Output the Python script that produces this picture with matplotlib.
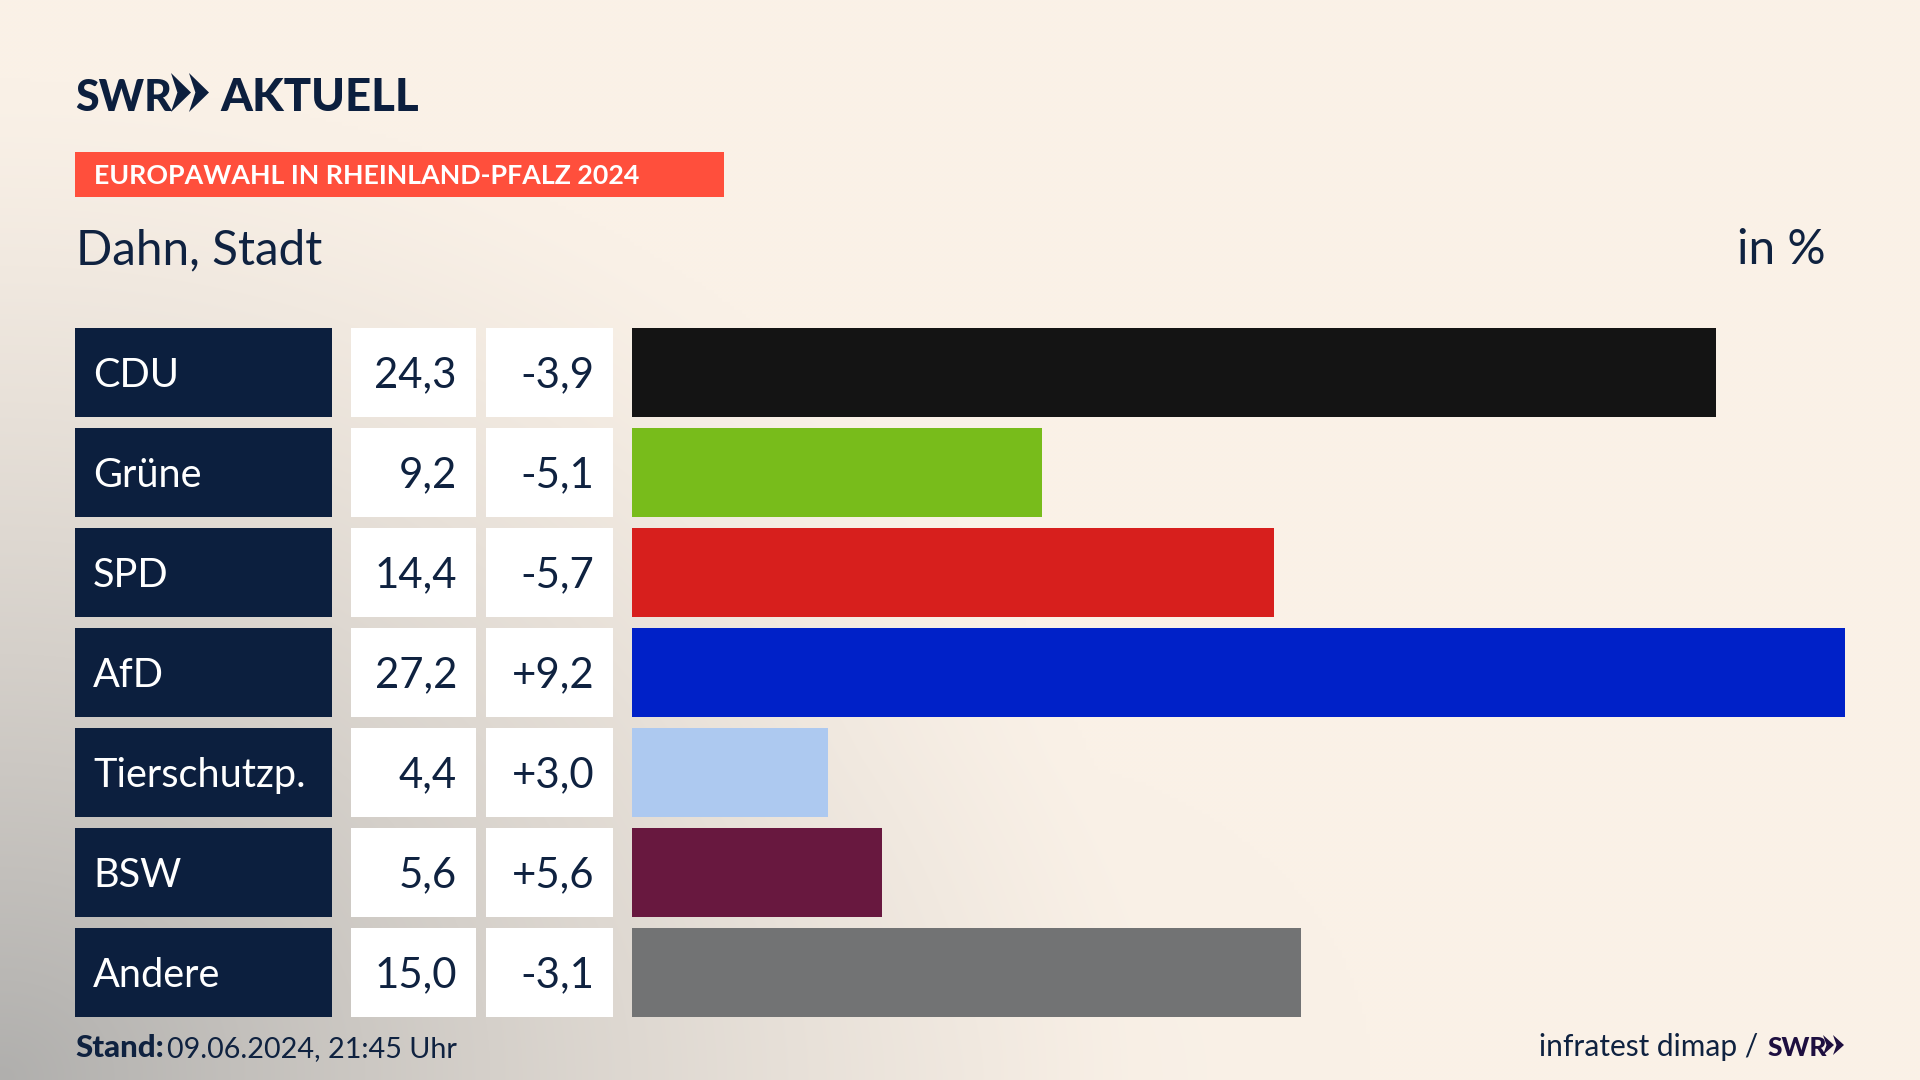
import numpy as np
import matplotlib
matplotlib.use("Agg")
import matplotlib.pyplot as plt
from matplotlib.patches import Rectangle, Polygon

parties = ["CDU", "Grüne", "SPD", "AfD", "Tierschutzp.", "BSW", "Andere"]
shares = [24.3, 9.2, 14.4, 27.2, 4.4, 5.6, 15.0]
changes = [-3.9, -5.1, -5.7, 9.2, 3.0, 5.6, -3.1]
bar_colors = ["#141414", "#78BC1B", "#D71F1D", "#0021C8", "#ADC9F0", "#68183F", "#727374"]

NAVY = "#0C1F3E"
INK = "#0F2240"
W, H = 1920, 1080
FONT = "Lato"

def de(v, signed=False):
    s = f"{v:+.1f}" if signed else f"{v:.1f}"
    return s.replace(".", ",")

fig = plt.figure(figsize=(19.2, 10.8), dpi=100)

px = fig.add_axes([0, 0, 1, 1])
px.set_xlim(0, W)
px.set_ylim(H, 0)
px.axis("off")

yy, xx = np.mgrid[0:H:270j, 0:W:480j]
d = np.sqrt((xx / 1150) ** 2 + ((H - yy) / 1000) ** 2)
t = np.clip(1 - d, 0, 1) ** 1.25
d2 = np.sqrt(((xx - 950) / 420) ** 2 + ((H - yy) / 330) ** 2)
t = np.clip(t + 0.035 * np.clip(1 - d2, 0, 1), 0, 1)
base = np.array([250, 241, 231]) / 255
dark = np.array([176, 175, 173]) / 255
bg = base[None, None, :] * (1 - t[..., None]) + dark[None, None, :] * t[..., None]
px.imshow(bg, extent=(0, W, H, 0), aspect="auto", interpolation="bilinear", zorder=0)
px.set_xlim(0, W)
px.set_ylim(H, 0)

def chevrons(x, y, h, w, gap, color):
    for k in range(2):
        x0 = x + k * gap
        pts = [(x0, y), (x0 + w, y + h / 2), (x0, y + h), (x0 + w * 0.32, y + h / 2)]
        px.add_patch(Polygon(pts, closed=True, fc=color, ec="none", zorder=3))

def label(x, y, s, size, color=INK, weight="normal", ha="left"):
    px.text(x, y, s, family=FONT, fontsize=size, color=color, weight=weight,
            va="baseline", ha=ha, zorder=3)

# logo
label(75, 111, "SWR", 31, NAVY, "black")
chevrons(171, 73, 39, 20, 18, NAVY)
label(220, 111, "AKTUELL", 32.8, NAVY, "black")

# banner
px.add_patch(Rectangle((75, 152), 649, 45, fc="#FF4F3C", ec="none", zorder=2))
label(94, 184, "EUROPAWAHL IN RHEINLAND-PFALZ 2024", 19.25, "white", "bold")

label(76, 264, "Dahn, Stadt", 34.3)
label(1826, 264, "in %", 34.3, ha="right")

# table + bars
top0, pitch, rh = 328, 100, 88.5
for i, (p, s, c) in enumerate(zip(parties, shares, changes)):
    y0 = top0 + i * pitch
    yc = y0 + rh / 2
    px.add_patch(Rectangle((75, y0), 257, rh, fc=NAVY, ec="none", zorder=2))
    px.add_patch(Rectangle((351, y0), 125, rh, fc="white", ec="none", zorder=2))
    px.add_patch(Rectangle((486, y0), 127, rh, fc="white", ec="none", zorder=2))
    label(93, yc + 14.5, p, 28.6, "white")
    label(457, yc + 14.5, de(s), 30.2, ha="right")
    label(594, yc + 14.5, de(c, True), 30.2, ha="right")

ax = fig.add_axes([632 / W, 1 - (top0 + 6 * pitch + rh) / H, (1845 - 632) / W, (6 * pitch + rh) / H])
ax.patch.set_alpha(0)
ax.set_xlim(0, 27.2)
half = rh / pitch / 2
ax.set_ylim(6 + half, -half)
ax.barh(range(len(shares)), shares, height=rh / pitch, color=bar_colors, linewidth=0)
ax.axis("off")

# footer
label(75, 1057, "Stand:", 22.5, weight="black")
label(167, 1057, "09.06.2024, 21:45 Uhr", 20.7)
label(1758, 1056, "infratest dimap /", 21.5, ha="right")
label(1768, 1056, "SWR", 19, "#1E0F40", "black")
chevrons(1823, 1035, 20, 11, 10, "#1E0F40")

fig.savefig("out.png", dpi=100)
